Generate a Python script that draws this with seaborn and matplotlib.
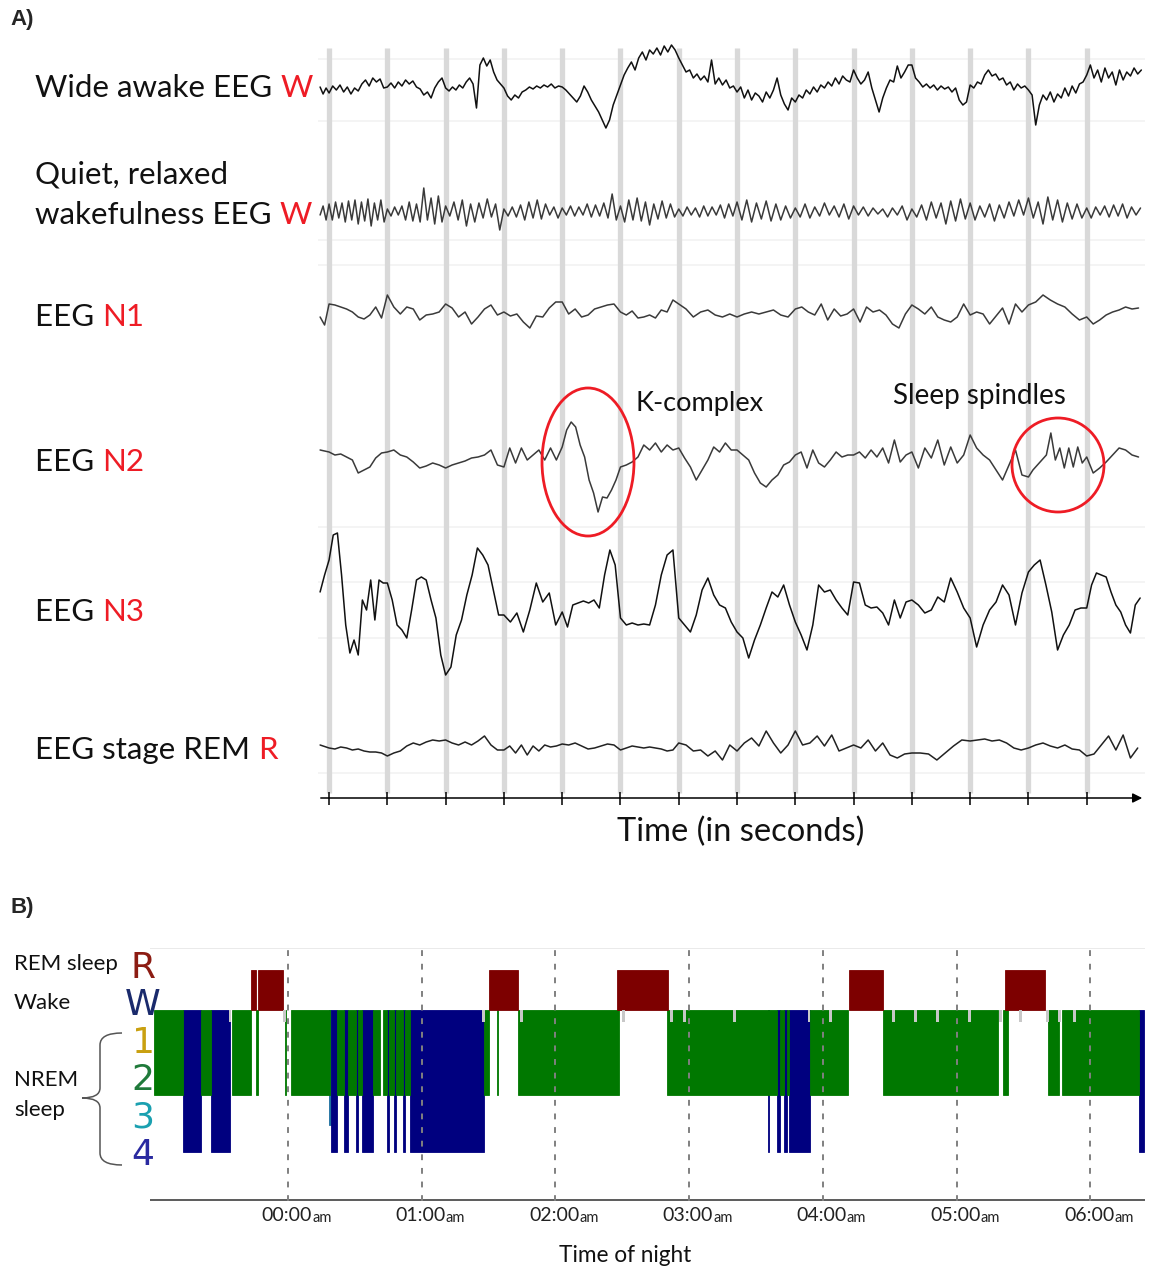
import numpy as np
import pandas as pd
import seaborn as sns
import matplotlib.pyplot as plt
from matplotlib.patches import Ellipse, PathPatch
from matplotlib.path import Path

sns.set_style("white")
plt.rcParams['font.family'] = ['Lato', 'DejaVu Sans']

# ---------------- panel A: EEG traces (deflection in px, up = positive)
# each trace is split into 15 pieces: start, 13 intervals between the grey second-lines, end
wide_awake = [
    [3, -4, 2],
    [-3, 4, 0, 5, -2, 3, -4, 2, -1, 6, 10, 4, 12, 8, 11, 2],
    [3, 7, 2, 8, 4, 10, 6, 9, 3, 1, -5, -2, -8, 2, 8, 12],
    [2, -1, 3, 0, 5, 2, 8, 12, 6, -18, 25, 32, 24, 30, 18, 10, 6],
    [2, -6, -10, -5, -8, -2, 0, 3, 1, 4, 2, 5, 3, 6, 2, 4],
    [3, 0, -4, -8, -12, -6, 4, -2, -10, -16, -22, -30, -38, -30, -15, -5],
    [5, 15, 22, 28, 20, 32, 38, 30, 40, 36, 42, 35, 44, 38, 45, 40],
    [32, 25, 18, 20, 12, 16, 10, 14, 8, 30, 6, 12, 5, 10, 2, 4],
    [-2, 3, -8, 0, -10, -3, -6, -12, -2, -8, 0, 12, -5, -14, -20, -8],
    [-12, -5, -8, 0, -4, 3, -2, 5, 2, 8, 4, 12, 6, 14, 10, 8],
    [20, 12, 6, 10, 18, 2, -10, -22, -8, 2, 10, 8, 24, 12, 18, 25],
    [25, 12, 8, 3, 6, 2, 5, 0, 4, 1, 3, -2, 2, -10, -15, -12],
    [5, 2, 8, 6, 15, 20, 14, 16, 10, 12, 5, 8, 0, 6, 2, 4],
    [0, -5, -35, -15, -5, -10, -2, -12, -4, -8, 2, -6, 4, -3, 6, 8],
    [15, 25, 12, 20, 8, 22, 12, 18, 5, 20, 10, 18, 14, 22, 16, 20],
]
quiet_awake = [
    [-3, 6, -8],
    [8, -8, 10, -6, 9, -10, 11, -8, 12, -12, 10, -9, 13, -14, 9, -8, 12, -10],
    [3, -4, 5, -3, 6, -8, 10, -9, 8, -10, 24, -8, 14, -12, 16, -10],
    [6, -4, 10, -8, 12, -14, 8, -10, 9, -6, 13, -5, 8, -18],
    [3, -4, 5, -5, 7, -8, 10, -6, 12, -7, 8, -3, 5, -6],
    [4, -3, 6, -4, 5, -3, 8, -5, 7, -4, 9, -6, 18, -8],
    [6, -10, 12, -8, 14, -9, 10, -13, 8, -7, 11, -6, 8, -5],
    [3, -4, 5, -3, 4, -5, 6, -4, 5, -3, 7, -6, 8, -4],
    [10, -8, 12, -10, 9, -7, 11, -9, 8, -8, 6, -6],
    [4, -5, 8, -6, 5, -4, 9, -3, 6, -5, 8, -7],
    [6, -3, 5, -4, 4, -2, 3, -5, 4, -3, 6, -8],
    [3, -5, 7, -8, 10, -6, 9, -12, 11, -9, 13, -7],
    [9, -8, 6, -5, 8, -9, 7, -6, 10, -4, 12, -3],
    [14, -6, 10, -12, 15, -8, 12, -10, 9, -7, 8, -6],
    [4, -6, 5, -3, 6, -5, 7, -4, 8, -6, 5, -3, 4],
]
stage_n1 = [
    [-5, -13],
    [8, 7, 5, 3, 0, -5, -7, -3, 5, -6],
    [17, 5, -2, 5, 3, -8, -3, -2, 0],
    [8, 4, -5, 0, -12, -5, 3, 7, -3],
    [0, -4, -2, -10, -16, -4, -5, 4, 10],
    [10, -2, 3, -5, -3, 3, 5, 7, 8],
    [0, -3, 1, -6, -5, -3, -6, 2, 0, 12],
    [8, 3, -5, 0, 2, -3, -5, -2],
    [-5, -2, 0, -2, 0, 2, -3, -5],
    [3, 5, 0, -3, 8, -8, 3, -4, -2],
    [3, -10, 5, 0, 2, -3, -12, -16, -2],
    [7, 3, -2, 5, -5, -8, -10, -5, 8],
    [-3, 0, -2, -12, -4, 4, -12, 8, 0],
    [7, 10, 17, 12, 8, 5, -2, -8],
    [-5, -12, -8, -3, 0, 2, 5, 3, 4],
]
stage_n2 = [
    [10],
    [8, 5, 6, 3, 0, -13, -10, -7, 2, 7],
    [8, 10, 5, 3, -2, -8, -6, -3, -5],
    [-8, -5, -3, -1, 2, 3, 5, 10, -5],
    [-7, 12, -3, 12, 0, 5, 10, 0, 12, 0],
    [13, 30, 38, 33, 15, 3, -20, -33, -52, -37, -38, -30, -20],
    [-7, -5, -2, 3, 15, 10, 17, 8, 15, 10],
    [12, 2, -7, -20, -10, 0, 13, 8, 17, 10],
    [10, 5, 0, -13, -23, -27, -20, -15, -5, -2],
    [5, 8, -8, 10, -3, -7, 0, 8, 3, 5],
    [5, 8, 2, 10, 3, 12, -3, 20, -2, 5],
    [8, -8, 12, 2, 20, -5, 13, -3, 5],
    [25, 12, 5, 0, -10, -20, -5, 10, -15],
    [-17, -10, -5, 0, 5, 27, 0, 12, -8, 12, -7, 13, -3],
    [3, -13, -8, -2, 5, 12, 10, 5, 3],
]
stage_n3 = [
    [13, 30],
    [45, 70, 72, 30, -20, -48, -35, -50, 5, -5, 25, -15, 25, 22],
    [22, 5, -20, -25, -33, -5, 25, 28, 25, 5, -13, -50],
    [-70, -62, -30, -15, 10, 30, 57, 50, 40, 15, -10],
    [-10, -17, -8, -27, -5, 22, 3, 12, -20],
    [-7, -22, 0, 2, 4, 2, 5, -3, 30, 55, 40],
    [-13, -20, -18, -20, -19, -20, 0, 30, 50, 55],
    [-13, -20, -27, -10, 15, 27, 10, 0, -3, -17],
    [-27, -33, -53, -35, -20, -3, 13, 8, 20, 0],
    [-17, -30, -45, -20, 20, 13, 15, 5, -3, -10],
    [23, 22, 0, -3, -2, -8, -20, 5, -13, 3],
    [5, 0, -8, -5, 8, 3, 27, 13, -3],
    [-13, -42, -20, -5, 3, 20, 10, -20, 12],
    [33, 40, 45, 20, -7, -45, -30, -20, -5, -3],
    [-3, 20, 32, 30, 28, 13, 0, -7, -20, -28, 0, 7],
]
stage_rem = [
    [3],
    [0, -1, 1, 0, -2, -1, -3, -4, -4, -5],
    [-8, -5, -3, 2, 5, 3, 6, 8, 7],
    [8, 5, 3, 6, 3, 7, 12, 3, -2],
    [-2, 2, -5, 3, -7, 2, -3, 3, 1, 2],
    [4, 3, 5, 2, -1, 0, 2, 4, 3],
    [-2, 0, 2, 1, 0, 1, 0, -1, -3, -2],
    [5, 3, -3, -2, -8, -3, -12, 3],
    [-3, 5, 10, 2, 17, 5, -5, 3],
    [17, 3, 5, 12, 2, 13, -3, 0],
    [3, 0, 8, -3, 5, -7, -10, -6],
    [-5, -5, -6, -12, -5, 2, 8],
    [7, 8, 9, 7, 8, 5, 0, -2],
    [0, 3, 5, 2, 0, 3, -1, -2],
    [-8, -6, 3, 12, -2, 13, -10, 0],
]
traces = [wide_awake, quiet_awake, stage_n1, stage_n2, stage_n3, stage_rem]
baselines = [90, 212, 312, 460, 605, 748]
trace_colors = ['#111111', '#3a3a3a', '#3a3a3a', '#3a3a3a', '#111111', '#222222']
seconds = np.arange(14)
bounds = [-0.154] + list(seconds) + [14.0]

# ---------------- panel B: hypnogram (hours from midnight)
hyp_start = [-1.002, -0.785, -0.653, -0.576, -0.421, -0.279, -0.242, -0.222, -0.026, 0.019,
             0.307, 0.319, 0.369, 0.419, 0.447, 0.509, 0.526, 0.551, 0.638, 0.708,
             0.743, 0.758, 0.793, 0.808, 0.858, 0.875, 0.912, 1.466, 1.506, 1.561,
             1.717, 2.461, 3.590, 2.838, 3.654, 3.680, 3.708, 3.733, 3.746, 3.904,
             4.194, 4.453, 5.350, 5.366, 5.684, 5.791, 6.368]
hyp_end = [-0.785, -0.653, -0.576, -0.434, -0.279, -0.242, -0.227, -0.034, -0.015, 0.314,
           0.318, 0.369, 0.419, 0.447, 0.509, 0.526, 0.551, 0.638, 0.688, 0.743,
           0.758, 0.793, 0.808, 0.858, 0.875, 0.912, 1.466, 1.506, 1.717, 1.573,
           2.472, 2.845, 3.601, 3.654, 3.680, 3.708, 3.733, 3.746, 3.904, 4.190,
           4.453, 5.307, 5.388, 5.664, 5.767, 6.368, 6.402]
hyp_stage = ['N2', 'N4', 'N2', 'N4', 'N2', 'R', 'N2', 'R', 'N2', 'N2',
             'N3', 'N4', 'N2', 'N4', 'N2', 'N4', 'N2', 'N4', 'N2', 'N2',
             'N4', 'N2', 'N4', 'N2', 'N4', 'N2', 'N4', 'N2', 'R', 'N2',
             'N2', 'R', 'N4', 'N2', 'N4', 'N2', 'N4', 'N2', 'N4', 'N2',
             'R', 'N2', 'N2', 'R', 'N2', 'N2', 'N4']
wake_epochs = [-0.434, -0.026, 1.461, 1.748, 2.508, 2.871, 2.966, 3.338, 3.897, 4.057,
               4.529, 4.690, 4.860, 5.095, 5.331, 5.480, 5.681, 5.770, 5.880]
hours = [0, 1, 2, 3, 4, 5, 6]
hour_labels = ['00:00', '01:00', '02:00', '03:00', '04:00', '05:00', '06:00']

W, H = 1152, 1270
fig = plt.figure(figsize=(W / 100, H / 100), dpi=100)


def frame(x0, y0, x1, y1):
    return [x0 / W, 1 - y1 / H, (x1 - x0) / W, (y1 - y0) / H]


# ---------- panel A
ax_a = fig.add_axes(frame(318, 40, 1145, 810))
ax_a.set_xlim(-0.19, 14.0)
ax_a.set_ylim(810, 40)
ax_a.axis('off')
for yy in [59, 121, 240, 265, 527, 582, 638, 773]:
    ax_a.axhline(yy, color='#f2f2f2', lw=1.2, zorder=0)
ax_a.vlines(seconds, 48, 793, color='#d9d9d9', lw=3.8, zorder=1)

for vals, base, col in zip(traces, baselines, trace_colors):
    xs, ys = [], []
    for i, piece in enumerate(vals):
        xs.extend(np.linspace(bounds[i], bounds[i + 1], len(piece), endpoint=False))
        ys.extend(base - np.array(piece))
    df = pd.DataFrame({'t': xs, 'y': ys})
    sns.lineplot(data=df, x='t', y='y', ax=ax_a, color=col, lw=1.1,
                 estimator=None, sort=False, zorder=3)
ax_a.set_xlabel('')
ax_a.set_ylabel('')

ax_a.annotate('', xy=(14.0, 798), xytext=(-0.19, 798),
              arrowprops=dict(arrowstyle='-|>', color='black', lw=1.1, mutation_scale=14))
ax_a.vlines(seconds, 792, 805, color='black', lw=1.1)

# ---------- panel B
ax_b = fig.add_axes(frame(150, 948, 1145, 1201))
ax_b.set_xlim((150 - 288) / 133.7, (1145 - 288) / 133.7)
ax_b.set_ylim(1201, 948)
ax_b.axis('off')
ax_b.axhline(948, color='#e6e6e6', lw=1.2)
ax_b.axhline(1200.5, color='#404040', lw=1.2)

stage_top = {'R': 970, 'N2': 1010, 'N3': 1010, 'N4': 1010}
stage_bottom = {'R': 1010, 'N2': 1095, 'N3': 1125, 'N4': 1152}
stage_color = {'R': '#7d0000', 'N2': '#007800', 'N3': '#1c6fa0', 'N4': '#00007f'}
for group in [['N3', 'N4'], ['N2'], ['R']]:
    for s, e, st in zip(hyp_start, hyp_end, hyp_stage):
        if st in group:
            ax_b.bar(s, stage_bottom[st] - stage_top[st], width=e - s, bottom=stage_top[st],
                     align='edge', color=stage_color[st], edgecolor=stage_color[st],
                     lw=0.6, zorder=2)
for t in wake_epochs:
    ax_b.bar(t - 0.011, 12, width=0.022, bottom=1010, align='edge',
             color='#c8c8c8', lw=0, zorder=2)
for h in hours:
    ax_b.axvline(h, color='#808080', lw=1.4, ls=(0, (3, 4)), zorder=4)

for h, lab in zip(hours, hour_labels):
    ax_b.text(h + 0.18, 1216, lab, ha='right', va='center', fontsize=14, color='#222222')
    ax_b.text(h + 0.18, 1218, 'am', ha='left', va='center', fontsize=10.5, color='#222222')

# ---------- overlay for labels and annotations
ov = fig.add_axes([0, 0, 1, 1], zorder=10)
ov.set_xlim(0, W)
ov.set_ylim(H, 0)
ov.axis('off')
ov.patch.set_alpha(0)

bold = ['Liberation Sans', 'DejaVu Sans']
ov.text(10, 20, 'A)', fontsize=16, fontweight='bold', family=bold, va='center')
ov.text(10, 908, 'B)', fontsize=16, fontweight='bold', family=bold, va='center')

fs = 22.5
red = '#ee1c25'
rows = [(88, 'Wide awake EEG', 'W'), (215, 'wakefulness EEG', 'W'), (317, 'EEG', 'N1'),
        (462, 'EEG', 'N2'), (612, 'EEG', 'N3'), (750, 'EEG stage REM', 'R')]
ov.text(35, 175, 'Quiet, relaxed', fontsize=fs, va='center', color='#111111')
for y, txt, st in rows:
    t = ov.text(35, y, txt + ' ', fontsize=fs, va='center', color='#111111')
    ov.annotate(st, xycoords=t, xy=(1, 0.5), va='center', fontsize=fs, color=red)

ov.add_patch(Ellipse((588, 462), 92, 148, fill=False, edgecolor=red, lw=2))
ov.add_patch(Ellipse((1058, 465), 92, 94, fill=False, edgecolor=red, lw=2))
ov.text(636, 404, 'K-complex', fontsize=19.5, va='center', color='#111111')
ov.text(893, 396, 'Sleep spindles', fontsize=20, va='center', color='#111111')
ov.text(741, 832, 'Time (in seconds)', fontsize=23.5, ha='center', va='center', color='#111111')

ov.text(14, 964, 'REM sleep', fontsize=16, va='center', color='#111111')
ov.text(14, 1003, 'Wake', fontsize=16, va='center', color='#111111')
ov.text(14, 1080, 'NREM', fontsize=16, va='center', color='#111111')
ov.text(14, 1110, 'sleep', fontsize=16, va='center', color='#111111')
ov.text(625, 1255, 'Time of night', fontsize=16.3, ha='center', va='center', color='#111111')

narrow = ['Liberation Sans Narrow', 'DejaVu Sans']
stage_letters = [('R', 968, '#8c1c13'), ('W', 1005, '#1a2a6c'), ('1', 1043, '#c9a010'),
                 ('2', 1080, '#1f7a3a'), ('3', 1117, '#1aa0b0'), ('4', 1155, '#2a2aa0')]
for ch, y, c in stage_letters:
    ov.text(143, y, ch, fontsize=26, ha='center', va='center', color=c, family=narrow)

brace = Path([(122, 1033), (100, 1033), (100, 1045), (100, 1088), (100, 1098), (82, 1098),
              (100, 1098), (100, 1108), (100, 1153), (100, 1165), (122, 1165)],
             [Path.MOVETO, Path.CURVE3, Path.CURVE3, Path.LINETO, Path.CURVE3, Path.CURVE3,
              Path.CURVE3, Path.CURVE3, Path.LINETO, Path.CURVE3, Path.CURVE3])
ov.add_patch(PathPatch(brace, fill=False, edgecolor='#555555', lw=1.1))

fig.savefig('out.png', dpi=100)
